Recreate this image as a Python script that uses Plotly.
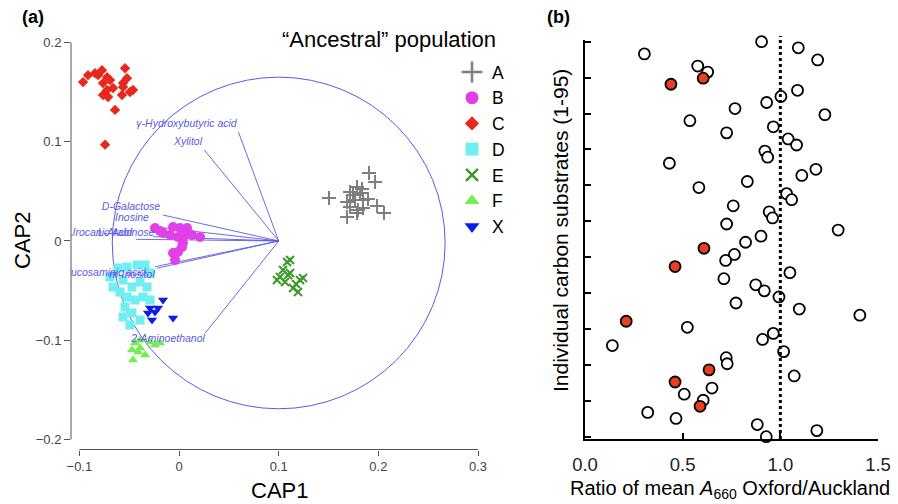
import numpy as np
import plotly.graph_objects as go

FONT = "Liberation Sans, Arial, Helvetica, sans-serif"

# ---------------- Panel (a): CAP ordination ----------------
A_x = [0.1505, 0.1906, 0.1967, 0.1786, 0.1716, 0.1816, 0.1686, 0.1766, 0.1846, 0.1896,
       0.1716, 0.1796, 0.1846, 0.1786, 0.1686, 0.1987, 0.2057, 0.1836, 0.1746]
A_y = [0.0433, 0.0685, 0.0594, 0.0544, 0.0493, 0.0483, 0.0393, 0.0413, 0.0413, 0.0423,
       0.0342, 0.0312, 0.0332, 0.0282, 0.0242, 0.0352, 0.0282, 0.0524, 0.0463]

B_x = [-0.0241, -0.0161, -0.0060, 0.0010, 0.0080, 0.0130, 0.0211, -0.0010, 0.0040, -0.0010,
       -0.0060, -0.0040, 0.0030, 0.0060, -0.0090, -0.0191]
B_y = [0.0131, 0.0081, 0.0141, 0.0131, 0.0131, 0.0060, 0.0040, 0.0040, -0.0020, -0.0111,
       -0.0121, -0.0191, -0.0060, 0.0060, 0.0060, 0.0101]

C_x = [-0.0963, -0.0913, -0.0843, -0.0773, -0.0722, -0.0692, -0.0763, -0.0722, -0.0662, -0.0542,
       -0.0522, -0.0562, -0.0492, -0.0572, -0.0763, -0.0712, -0.0642, -0.0742, -0.0813, -0.0562, -0.0462]
C_y = [0.160, 0.167, 0.169, 0.172, 0.165, 0.162, 0.159, 0.152, 0.154, 0.174,
       0.164, 0.155, 0.150, 0.147, 0.147, 0.145, 0.132, 0.097, 0.167, 0.159, 0.152]

D_x = [-0.0692, -0.0612, -0.0522, -0.0421, -0.0341, -0.0291, -0.0562, -0.0472, -0.0391, -0.0592,
       -0.0522, -0.0441, -0.0361, -0.0542, -0.0472, -0.0562, -0.0391, -0.0492, -0.0662, -0.0321, -0.0291]
D_y = [-0.0363, -0.0272, -0.0262, -0.0242, -0.0242, -0.0322, -0.0393, -0.0463, -0.0413, -0.0514,
       -0.0564, -0.0594, -0.0564, -0.0665, -0.0725, -0.0765, -0.0796, -0.0846, -0.0463, -0.0463, -0.0594]

E_x = [0.1084, 0.1114, 0.1043, 0.1094, 0.1214, 0.1144, 0.1064, 0.0983, 0.1114, 0.1194, 0.1013, 0.1174, 0.1244]
E_y = [-0.0211, -0.0191, -0.0292, -0.0342, -0.0393, -0.0473, -0.0413, -0.0393, -0.0322, -0.0514, -0.0363, -0.0433, -0.0373]

F_x = [-0.0441, -0.0391, -0.0291, -0.0241, -0.0472, -0.0411, -0.0341, -0.0462, -0.0391, -0.0191]
F_y = [-0.1027, -0.0997, -0.1017, -0.1047, -0.1098, -0.1118, -0.1148, -0.1198, -0.1078, -0.1027]

X_x = [-0.0161, -0.0291, -0.0211, -0.0311, -0.0271, -0.0060, -0.0241]
X_y = [-0.0594, -0.0675, -0.0675, -0.0725, -0.0796, -0.0775, -0.0715]

# biplot vectors (origin at the circle centre) and their labels
vec_origin = (0.1, 0.0)
vec_names = ["γ-Hydroxybutyric acid", "Xylitol", "D-Galactose", "Inosine", "L-Arabinose",
             "Urocanic Acid", "Glucosaminic acid", "m-Inositol", "2-Aminoethanol"]
vec_x = [0.0595, 0.0254, -0.0164, -0.0258, -0.0258, -0.0431, -0.0241, -0.0224, 0.0261]
vec_y = [0.110, 0.0916, 0.0262, 0.0144, 0.0044, 0.0017, -0.0259, -0.0275, -0.093]
lab_x = [0.0075, 0.009, -0.0482, -0.0472, -0.0532, -0.0793, -0.0763, -0.0472, -0.011]
lab_y = [0.1178, 0.0997, 0.0342, 0.0232, 0.0081, 0.0081, -0.0322, -0.0342, -0.0987]
circle_radius = 0.167

# ---------------- Panel (b): ratio per substrate (top to bottom) ----------------
ratio = [0.904, 1.092, 0.304, 1.191, 0.577, 0.628, 0.605, 0.440, 1.088, 1.003,
         0.930, 0.768, 1.228, 0.537, 0.964, 0.725, 1.040, 1.083, 0.921, 0.935,
         0.432, 1.182, 1.110, 0.831, 0.583, 1.032, 1.058, 0.759, 0.943, 0.960,
         0.725, 1.296, 0.901, 0.822, 0.609, 0.765, 0.720, 0.461, 1.049, 0.711,
         0.874, 0.918, 0.993, 0.773, 1.097, 1.407, 0.211, 0.524, 0.964, 0.909,
         0.140, 1.017, 0.723, 0.728, 0.635, 1.071, 0.461, 0.650, 0.508, 0.605,
         0.589, 0.321, 0.466, 0.882, 1.187, 0.928]
significant = [False] * len(ratio)
for i in [6, 7, 34, 37, 46, 54, 56, 60]:
    significant[i] = True
rank = list(range(len(ratio), 0, -1))
b_xticks = [0.0, 0.5, 1.0, 1.5]

fig = go.Figure()

VCOL = "#5a5ae6"
# vectors
for vx, vy in zip(vec_x, vec_y):
    fig.add_trace(go.Scatter(x=[vec_origin[0], vx], y=[vec_origin[1], vy], mode="lines",
                             line=dict(color=VCOL, width=0.9), showlegend=False,
                             hoverinfo="skip", xaxis="x", yaxis="y"))

groups = [
    ("A", A_x, A_y, "cross-thin", "#7f7f7f", 10, 15),
    ("B", B_x, B_y, "circle", "#e040e6", 10, 13),
    ("C", C_x, C_y, "diamond", "#e8281c", 8, 11),
    ("D", D_x, D_y, "square", "#70eef0", 9, 13),
    ("E", E_x, E_y, "x-thin", "#3c9a2a", 8, 12),
    ("F", F_x, F_y, "triangle-up", "#72ee52", 9, 13),
    ("X", X_x, X_y, "triangle-down", "#0a1ee6", 9, 13),
]
for name, gx, gy, sym, col, sz, lsz in groups:
    thin = sym.endswith("thin")
    mk = dict(symbol=sym, size=sz, color=col,
              line=dict(color=col, width=2 if thin else 0))
    fig.add_trace(go.Scatter(x=gx, y=gy, mode="markers", marker=mk, name=name,
                             showlegend=False, xaxis="x", yaxis="y"))
    lmk = dict(symbol=sym, size=lsz, color=col,
               line=dict(color=col, width=2.5 if thin else 0))
    fig.add_trace(go.Scatter(x=[None], y=[None], mode="markers", marker=lmk, name=name,
                             showlegend=True, xaxis="x", yaxis="y"))

fig.add_trace(go.Scatter(x=lab_x, y=lab_y, mode="text",
                         text=["<i>%s</i>" % n for n in vec_names],
                         textfont=dict(family=FONT, size=10.5, color=VCOL),
                         textposition="middle center", cliponaxis=True,
                         showlegend=False, hoverinfo="skip", xaxis="x", yaxis="y"))

# panel (b)
nx = [r for r, s in zip(ratio, significant) if not s]
ny = [k for k, s in zip(rank, significant) if not s]
sx = [r for r, s in zip(ratio, significant) if s]
sy = [k for k, s in zip(rank, significant) if s]
fig.add_trace(go.Scatter(x=nx, y=ny, mode="markers", showlegend=False, cliponaxis=False,
                         marker=dict(symbol="circle", size=11, color="white",
                                     line=dict(color="black", width=1.8)),
                         xaxis="x2", yaxis="y2"))
fig.add_trace(go.Scatter(x=sx, y=sy, mode="markers", showlegend=False, cliponaxis=False,
                         marker=dict(symbol="circle", size=11, color="#e8401e",
                                     line=dict(color="black", width=1.8)),
                         xaxis="x2", yaxis="y2"))

shapes = [
    dict(type="circle", xref="x", yref="y", x0=vec_origin[0] - circle_radius,
         x1=vec_origin[0] + circle_radius, y0=-0.169, y1=0.165,
         line=dict(color=VCOL, width=1), layer="below"),
    dict(type="line", xref="x domain", yref="y", x0=0, x1=0, y0=-0.2, y1=0.2,
         line=dict(color="#555555", width=1)),
    dict(type="line", xref="x", yref="y domain", x0=-0.1, x1=0.3, y0=0, y1=0,
         line=dict(color="#555555", width=1)),
    dict(type="line", xref="x2", yref="y2 domain", x0=1, x1=1, y0=0, y1=1.01,
         line=dict(color="black", width=3, dash="dot")),
]


def ann(text, px, py, size, angle=0, xanchor="center"):
    return dict(text=text, x=px / 898, y=1 - py / 504, xref="paper", yref="paper",
                xanchor=xanchor, yanchor="middle", showarrow=False, textangle=angle,
                font=dict(family=FONT, size=size, color="black"))


annotations = [
    ann("<b>(a)</b>", 33, 17, 18),
    ann("<b>(b)</b>", 558, 17, 18),
    ann("CAP1", 279, 490, 22),
    ann("CAP2", 22, 241, 22, angle=-90),
    ann("“Ancestral” population", 280, 40, 22, xanchor="left"),
    ann("Ratio of mean <i>A</i><sub>660</sub> Oxford/Auckland", 730, 489, 20),
    ann("Individual carbon substrates (1-95)", 561, 231, 21, angle=-90),
]

fig.update_layout(
    template="none",
    width=898, height=504, margin=dict(l=0, r=0, t=0, b=0, autoexpand=False),
    paper_bgcolor="white", plot_bgcolor="white",
    font=dict(family=FONT, color="#333333"),
    shapes=shapes, annotations=annotations,
    showlegend=True,
    legend=dict(x=452 / 898, y=1 - 54 / 504, xanchor="left", yanchor="top",
                font=dict(family=FONT, size=17.5, color="black"),
                bgcolor="rgba(0,0,0,0)", borderwidth=0, traceorder="normal"),
    xaxis=dict(domain=[71 / 898, 480 / 898], range=[-0.1084, 0.302], tickvals=[-0.1, 0, 0.1, 0.2, 0.3],
               ticks="outside", ticklen=5, tickcolor="#555555", showgrid=False, zeroline=False,
               showline=False, tickfont=dict(family=FONT, size=13, color="#444444"),
               automargin=False, anchor="y"),
    yaxis=dict(domain=[0.10813, 0.91984], range=[-0.21, 0.202], tickvals=[-0.2, -0.1, 0, 0.1, 0.2],
               ticks="outside", ticklen=6, tickcolor="#555555", showgrid=False, zeroline=False,
               showline=False, tickfont=dict(family=FONT, size=13, color="#444444"),
               automargin=False, anchor="x"),
    xaxis2=dict(domain=[585 / 898, 878 / 898], range=[0, 1.5], tickvals=b_xticks,
                tickformat=".1f", ticks="inside", ticklen=6, tickwidth=1.5, tickcolor="black",
                showline=True, linecolor="black", linewidth=2, showgrid=False, zeroline=False,
                tickfont=dict(family=FONT, size=18.5, color="#222222"), ticklabelstandoff=8,
                automargin=False, anchor="y2"),
    yaxis2=dict(domain=[0.12897, 0.92083], range=[0.62, 66.3],
                tickvals=list(np.linspace(1, len(ratio), 12)), showticklabels=False,
                ticks="inside", ticklen=6, tickwidth=1.5, tickcolor="black",
                showline=True, linecolor="black", linewidth=2, showgrid=False, zeroline=False,
                automargin=False, anchor="x2"),
)

fig.write_html("out.html", config={"displayModeBar": False},
               post_script="document.body.style.margin='0';document.body.style.overflow='hidden';")
